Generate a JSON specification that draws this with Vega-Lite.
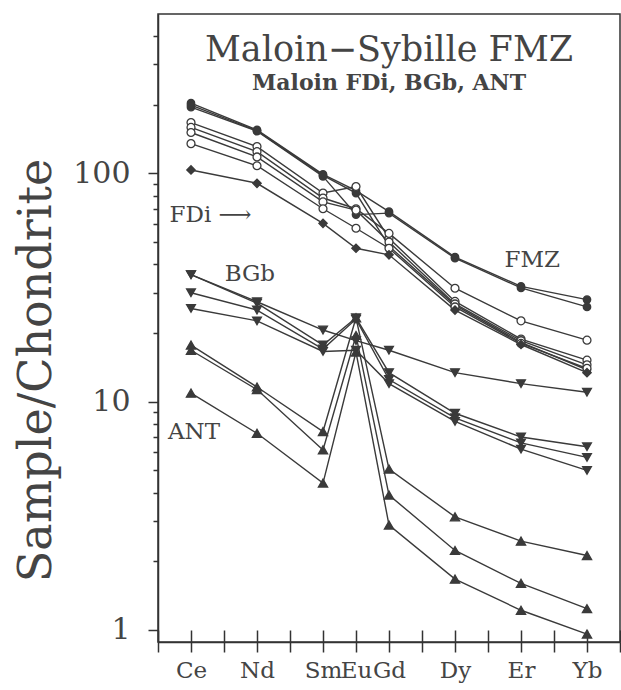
{
  "$schema": "https://vega.github.io/schema/vega-lite/v6.json",
  "width": 462,
  "height": 628,
  "autosize": {"type": "none"},
  "padding": {"left": 158, "top": 14, "right": 1, "bottom": 48},
  "background": "white",
  "title": {
    "text": "Maloin−Sybille FMZ",
    "subtitle": "Maloin FDi, BGb, ANT",
    "anchor": "middle",
    "frame": "group",
    "offset": -80,
    "font": "DejaVu Serif",
    "fontSize": 35,
    "fontWeight": "normal",
    "color": "#444",
    "subtitleFont": "DejaVu Serif",
    "subtitleFontSize": 22,
    "subtitleFontWeight": "bold",
    "subtitleColor": "#444",
    "subtitlePadding": 5
  },
  "config": {
    "view": {"stroke": "#333", "strokeWidth": 1.5},
    "axis": {"grid": false}
  },
  "datasets": {
    "ree": [
      {"s": "F1", "g": "FMZf", "z": 58, "v": 203}, {"s": "F1", "g": "FMZf", "z": 60, "v": 155}, {"s": "F1", "g": "FMZf", "z": 62, "v": 99}, {"s": "F1", "g": "FMZf", "z": 63, "v": 84}, {"s": "F1", "g": "FMZf", "z": 64, "v": 68}, {"s": "F1", "g": "FMZf", "z": 66, "v": 43}, {"s": "F1", "g": "FMZf", "z": 68, "v": 32}, {"s": "F1", "g": "FMZf", "z": 70, "v": 28},
      {"s": "F2", "g": "FMZf", "z": 58, "v": 195}, {"s": "F2", "g": "FMZf", "z": 60, "v": 153}, {"s": "F2", "g": "FMZf", "z": 62, "v": 97}, {"s": "F2", "g": "FMZf", "z": 63, "v": 66}, {"s": "F2", "g": "FMZf", "z": 64, "v": 67}, {"s": "F2", "g": "FMZf", "z": 66, "v": 42.5}, {"s": "F2", "g": "FMZf", "z": 68, "v": 31.5}, {"s": "F2", "g": "FMZf", "z": 70, "v": 26},
      {"s": "F3", "g": "FMZf", "z": 58, "v": 199}, {"s": "F3", "g": "FMZf", "z": 60, "v": 154}, {"s": "F3", "g": "FMZf", "z": 62, "v": 98}, {"s": "F3", "g": "FMZf", "z": 63, "v": 82}, {"s": "F3", "g": "FMZf", "z": 64, "v": 48}, {"s": "F3", "g": "FMZf", "z": 66, "v": 26.5}, {"s": "F3", "g": "FMZf", "z": 68, "v": 18.2}, {"s": "F3", "g": "FMZf", "z": 70, "v": 13.8},
      {"s": "O1", "g": "FMZo", "z": 58, "v": 167}, {"s": "O1", "g": "FMZo", "z": 60, "v": 131}, {"s": "O1", "g": "FMZo", "z": 62, "v": 82}, {"s": "O1", "g": "FMZo", "z": 63, "v": 87.6}, {"s": "O1", "g": "FMZo", "z": 64, "v": 52}, {"s": "O1", "g": "FMZo", "z": 66, "v": 27.5}, {"s": "O1", "g": "FMZo", "z": 68, "v": 18.8}, {"s": "O1", "g": "FMZo", "z": 70, "v": 15.2},
      {"s": "O2", "g": "FMZo", "z": 58, "v": 159}, {"s": "O2", "g": "FMZo", "z": 60, "v": 124.5}, {"s": "O2", "g": "FMZo", "z": 62, "v": 78}, {"s": "O2", "g": "FMZo", "z": 63, "v": 70}, {"s": "O2", "g": "FMZo", "z": 64, "v": 54.6}, {"s": "O2", "g": "FMZo", "z": 66, "v": 31.4}, {"s": "O2", "g": "FMZo", "z": 68, "v": 22.6}, {"s": "O2", "g": "FMZo", "z": 70, "v": 18.6},
      {"s": "O3", "g": "FMZo", "z": 58, "v": 151}, {"s": "O3", "g": "FMZo", "z": 60, "v": 118}, {"s": "O3", "g": "FMZo", "z": 62, "v": 75}, {"s": "O3", "g": "FMZo", "z": 63, "v": 69}, {"s": "O3", "g": "FMZo", "z": 64, "v": 50}, {"s": "O3", "g": "FMZo", "z": 66, "v": 26.8}, {"s": "O3", "g": "FMZo", "z": 68, "v": 18.5}, {"s": "O3", "g": "FMZo", "z": 70, "v": 14.5},
      {"s": "O4", "g": "FMZo", "z": 58, "v": 135}, {"s": "O4", "g": "FMZo", "z": 60, "v": 108}, {"s": "O4", "g": "FMZo", "z": 62, "v": 70}, {"s": "O4", "g": "FMZo", "z": 63, "v": 57.5}, {"s": "O4", "g": "FMZo", "z": 64, "v": 47}, {"s": "O4", "g": "FMZo", "z": 66, "v": 26}, {"s": "O4", "g": "FMZo", "z": 68, "v": 18}, {"s": "O4", "g": "FMZo", "z": 70, "v": 14},
      {"s": "D1", "g": "FDi", "z": 58, "v": 103.5}, {"s": "D1", "g": "FDi", "z": 60, "v": 90.5}, {"s": "D1", "g": "FDi", "z": 62, "v": 60.4}, {"s": "D1", "g": "FDi", "z": 63, "v": 47}, {"s": "D1", "g": "FDi", "z": 64, "v": 44}, {"s": "D1", "g": "FDi", "z": 66, "v": 25.2}, {"s": "D1", "g": "FDi", "z": 68, "v": 17.8}, {"s": "D1", "g": "FDi", "z": 70, "v": 13.4},
      {"s": "B1", "g": "BGb", "z": 58, "v": 36}, {"s": "B1", "g": "BGb", "z": 60, "v": 27.4}, {"s": "B1", "g": "BGb", "z": 62, "v": 20.6}, {"s": "B1", "g": "BGb", "z": 63, "v": 18.5}, {"s": "B1", "g": "BGb", "z": 64, "v": 16.8}, {"s": "B1", "g": "BGb", "z": 66, "v": 13.4}, {"s": "B1", "g": "BGb", "z": 68, "v": 12.0}, {"s": "B1", "g": "BGb", "z": 70, "v": 11.0},
      {"s": "B2", "g": "BGb", "z": 58, "v": 36}, {"s": "B2", "g": "BGb", "z": 60, "v": 27}, {"s": "B2", "g": "BGb", "z": 62, "v": 17.7}, {"s": "B2", "g": "BGb", "z": 63, "v": 23.3}, {"s": "B2", "g": "BGb", "z": 64, "v": 13.4}, {"s": "B2", "g": "BGb", "z": 66, "v": 8.9}, {"s": "B2", "g": "BGb", "z": 68, "v": 7.0}, {"s": "B2", "g": "BGb", "z": 70, "v": 6.35},
      {"s": "B3", "g": "BGb", "z": 58, "v": 30}, {"s": "B3", "g": "BGb", "z": 60, "v": 25.2}, {"s": "B3", "g": "BGb", "z": 62, "v": 17.0}, {"s": "B3", "g": "BGb", "z": 63, "v": 23.0}, {"s": "B3", "g": "BGb", "z": 64, "v": 12.5}, {"s": "B3", "g": "BGb", "z": 66, "v": 8.5}, {"s": "B3", "g": "BGb", "z": 68, "v": 6.6}, {"s": "B3", "g": "BGb", "z": 70, "v": 5.7},
      {"s": "B4", "g": "BGb", "z": 58, "v": 25.6}, {"s": "B4", "g": "BGb", "z": 60, "v": 22.6}, {"s": "B4", "g": "BGb", "z": 62, "v": 16.6}, {"s": "B4", "g": "BGb", "z": 63, "v": 16.8}, {"s": "B4", "g": "BGb", "z": 64, "v": 12.0}, {"s": "B4", "g": "BGb", "z": 66, "v": 8.2}, {"s": "B4", "g": "BGb", "z": 68, "v": 6.2}, {"s": "B4", "g": "BGb", "z": 70, "v": 5.0},
      {"s": "A1", "g": "ANT", "z": 58, "v": 17.7}, {"s": "A1", "g": "ANT", "z": 60, "v": 11.6}, {"s": "A1", "g": "ANT", "z": 62, "v": 7.4}, {"s": "A1", "g": "ANT", "z": 63, "v": 23.3}, {"s": "A1", "g": "ANT", "z": 64, "v": 5.07}, {"s": "A1", "g": "ANT", "z": 66, "v": 3.13}, {"s": "A1", "g": "ANT", "z": 68, "v": 2.45}, {"s": "A1", "g": "ANT", "z": 70, "v": 2.12},
      {"s": "A2", "g": "ANT", "z": 58, "v": 16.8}, {"s": "A2", "g": "ANT", "z": 60, "v": 11.3}, {"s": "A2", "g": "ANT", "z": 62, "v": 6.15}, {"s": "A2", "g": "ANT", "z": 63, "v": 19.5}, {"s": "A2", "g": "ANT", "z": 64, "v": 3.9}, {"s": "A2", "g": "ANT", "z": 66, "v": 2.23}, {"s": "A2", "g": "ANT", "z": 68, "v": 1.6}, {"s": "A2", "g": "ANT", "z": 70, "v": 1.24},
      {"s": "A3", "g": "ANT", "z": 58, "v": 10.9}, {"s": "A3", "g": "ANT", "z": 60, "v": 7.27}, {"s": "A3", "g": "ANT", "z": 62, "v": 4.4}, {"s": "A3", "g": "ANT", "z": 63, "v": 16.5}, {"s": "A3", "g": "ANT", "z": 64, "v": 2.88}, {"s": "A3", "g": "ANT", "z": 66, "v": 1.67}, {"s": "A3", "g": "ANT", "z": 68, "v": 1.22}, {"s": "A3", "g": "ANT", "z": 70, "v": 0.96}
    ],
    "notes": [
      {"t": "FDi ⟶", "z": 57.35, "v": 66},
      {"t": "BGb", "z": 59.02, "v": 36.2},
      {"t": "FMZ", "z": 67.5, "v": 41.8},
      {"t": "ANT", "z": 57.3, "v": 7.39}
    ]
  },
  "resolve": {"axis": {"x": "independent", "y": "independent"}},
  "layer": [
    {
      "data": {"name": "ree"},
      "mark": {"type": "line", "color": "#3a3a3a", "strokeWidth": 1.4},
      "encoding": {
        "x": {
          "field": "z", "type": "quantitative",
          "scale": {"domain": [57, 71], "nice": false, "zero": false},
          "axis": {
            "orient": "bottom",
            "values": [57, 58, 59, 60, 61, 62, 63, 64, 65, 66, 67, 68, 69, 70, 71],
            "labelExpr": "datum.value == 58 ? 'Ce' : datum.value == 60 ? 'Nd' : datum.value == 62 ? 'Sm' : datum.value == 63 ? 'Eu' : datum.value == 64 ? 'Gd' : datum.value == 66 ? 'Dy' : datum.value == 68 ? 'Er' : datum.value == 70 ? 'Yb' : ''",
            "labelOverlap": false,
            "labelFlush": false,
            "labelBound": false,
            "labelFont": "DejaVu Serif",
            "labelFontSize": 23,
            "labelColor": "#444",
            "labelPadding": 7,
            "tickSize": 10,
            "tickWidth": 1.5,
            "tickColor": "#333",
            "domainColor": "#333",
            "domainWidth": 1.5,
            "title": null,
            "grid": false
          }
        },
        "y": {
          "field": "v", "type": "quantitative",
          "scale": {"type": "log", "domain": [0.886, 499], "nice": false},
          "axis": {
            "values": [1, 10, 100],
            "format": "d",
            "labelFont": "DejaVu Serif",
            "labelFontSize": 30,
            "labelColor": "#444",
            "labelPadding": 18,
            "labelFlush": false,
            "labelBound": false,
            "labelOverlap": false,
            "tickSize": 10,
            "tickWidth": 1.5,
            "tickColor": "#333",
            "domainColor": "#333",
            "domainWidth": 1.5,
            "grid": false,
            "title": "Sample/Chondrite",
            "titleFont": "DejaVu Serif",
            "titleFontSize": 46,
            "titleFontWeight": "normal",
            "titleColor": "#444",
            "titleAngle": -90,
            "titleAlign": "center",
            "titleBaseline": "middle",
            "titleX": -122,
            "titleY": 356
          }
        },
        "detail": {"field": "s"}
      }
    },
    {
      "data": {"name": "ree"},
      "mark": {"type": "point", "filled": true, "stroke": "#3a3a3a", "strokeWidth": 1.3, "opacity": 1},
      "encoding": {
        "x": {
          "field": "z", "type": "quantitative",
          "axis": {
            "orient": "bottom",
            "values": [57, 58, 59, 60, 61, 62, 63, 64, 65, 66, 67, 68, 69, 70, 71],
            "labels": false,
            "domain": false,
            "tickSize": -12,
            "tickWidth": 1.5,
            "tickColor": "#333",
            "title": null,
            "grid": false
          }
        },
        "y": {
          "field": "v", "type": "quantitative",
          "axis": {
            "orient": "left",
            "values": [2, 3, 4, 5, 6, 7, 8, 9, 20, 30, 40, 50, 60, 70, 80, 90, 200, 300, 400],
            "labels": false,
            "domain": false,
            "tickSize": 5,
            "tickWidth": 1.5,
            "tickColor": "#333",
            "title": null,
            "grid": false
          }
        },
        "shape": {
          "field": "g", "type": "nominal",
          "scale": {"domain": ["FMZf", "FMZo", "FDi", "BGb", "ANT"], "range": ["circle", "circle", "diamond", "triangle-down", "triangle-up"]},
          "legend": null
        },
        "fill": {
          "field": "g", "type": "nominal",
          "scale": {"domain": ["FMZf", "FMZo", "FDi", "BGb", "ANT"], "range": ["#3a3a3a", "#ffffff", "#3a3a3a", "#3a3a3a", "#3a3a3a"]},
          "legend": null
        },
        "size": {
          "field": "g", "type": "nominal",
          "scale": {"domain": ["FMZf", "FMZo", "FDi", "BGb", "ANT"], "range": [55, 85, 22, 50, 50]},
          "legend": null
        }
      }
    },
    {
      "data": {"name": "notes"},
      "mark": {"type": "text", "align": "left", "baseline": "middle", "font": "DejaVu Serif", "fontSize": 23, "color": "#444"},
      "encoding": {
        "x": {"field": "z", "type": "quantitative", "axis": null},
        "y": {"field": "v", "type": "quantitative", "axis": null},
        "text": {"field": "t"}
      }
    }
  ]
}
